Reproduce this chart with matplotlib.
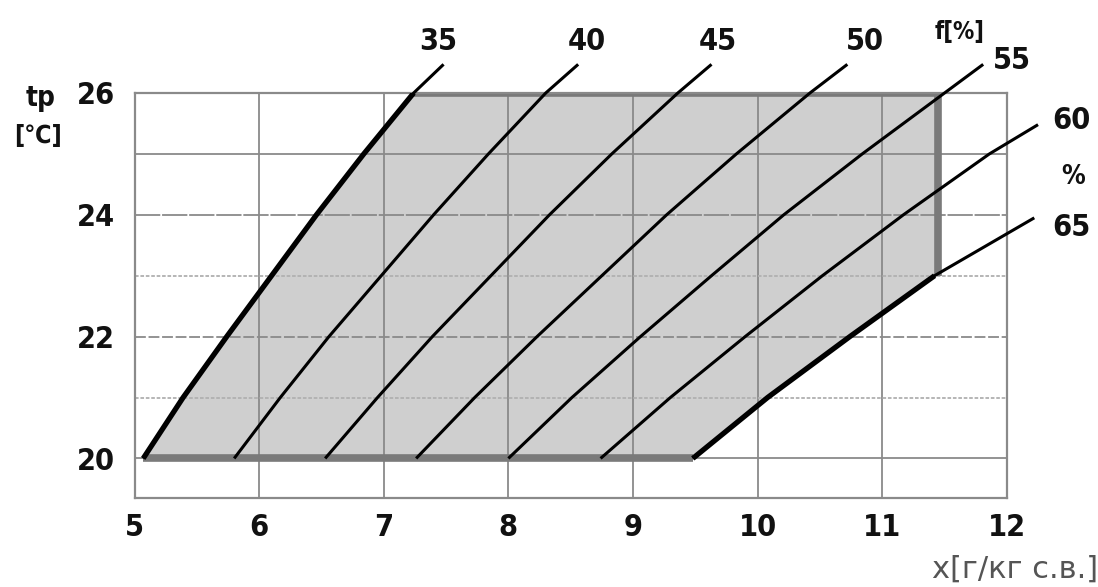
import matplotlib
matplotlib.use("Agg")
import matplotlib.pyplot as plt
from matplotlib import font_manager as fm

# ---- data ----
temps = [20, 21, 22, 23, 24, 25, 26]                 # t_p, °C
rh_labels = ["35", "40", "45", "50", "55", "60", "65"]
x_rh35 = [5.07, 5.39, 5.74, 6.10, 6.46, 6.84, 7.24]
x_rh40 = [5.80, 6.17, 6.56, 6.98, 7.40, 7.84, 8.30]
x_rh45 = [6.53, 6.95, 7.39, 7.86, 8.33, 8.83, 9.36]
x_rh50 = [7.26, 7.73, 8.23, 8.75, 9.27, 9.83, 10.42]
x_rh55 = [8.00, 8.51, 9.06, 9.63, 10.21, 10.84, 11.50]
x_rh60 = [8.74, 9.30, 9.90, 10.52, 11.17, 11.86]     # 20..25 °C
x_rh65 = [9.48, 10.08, 10.74, 11.42]                 # 20..23 °C
end_x = [7.48, 8.56, 9.63, 10.72, 11.81, 12.25, 12.22]
end_t = [26.47, 26.47, 26.47, 26.47, 26.47, 25.48, 23.95]
x_max = 11.45          # right edge of comfort zone
t_low, t_high, t_right_low = 20, 26, 23
x_ticks = [5, 6, 7, 8, 9, 10, 11, 12]
y_ticks = [20, 22, 24, 26]

curves = [x_rh35, x_rh40, x_rh45, x_rh50, x_rh55, x_rh60, x_rh65]


def pick_condensed_bold():
    files = [f.fname for f in fm.fontManager.ttflist]
    prefs = ["liberationsansnarrow-bold.", "dejavusanscondensed-bold.",
             "robotocondensed-bold", "opensans_condensed-bold",
             "opensanscondensed-bold"]
    for p in prefs:
        for fn in files:
            if p in fn.lower().replace(" ", ""):
                return fm.FontProperties(fname=fn)
    for fn in files:
        low = fn.lower()
        if ("condensed" in low or "narrow" in low) and "bold" in low \
                and "italic" not in low and "oblique" not in low:
            return fm.FontProperties(fname=fn)
    return fm.FontProperties(family="Roboto", weight="bold")


BOLD = pick_condensed_bold()


def fp(size):
    p = BOLD.copy()
    p.set_size(size)
    return p


fig = plt.figure(figsize=(10.98, 5.87), dpi=100)
ax = fig.add_axes([0.1225, 0.1516, 0.7945, 0.69])
ax.set_xlim(5, 12)
ax.set_ylim(19.35, 26)

# comfort zone fill
poly_x = x_rh35 + [x_max, x_max] + x_rh65[::-1]
poly_t = temps + [t_high, t_right_low] + temps[:len(x_rh65)][::-1]
ax.fill(poly_x, poly_t, color="#cfcfcf", lw=0, zorder=1)

# grid
for xv in range(6, 12):
    ax.axvline(xv, color="#8a8a8a", lw=1.3, zorder=1.5)
for yv, ls, col in [(20, "-", "#8a8a8a"), (21, (0, (2, 1)), "#b0b0b0"),
                    (22, (0, (6, 1.5)), "#8a8a8a"), (23, (0, (2, 1)), "#b0b0b0"),
                    (24, (0, (14, 1)), "#8a8a8a"), (25, "-", "#8a8a8a")]:
    ax.axhline(yv, color=col, lw=1.3, ls=ls, zorder=1.5)

# zone borders (top, right, bottom)
ax.plot([x_rh35[-1], x_max, x_max], [t_high, t_high, t_right_low],
        color="#7a7a7a", lw=5.5, solid_capstyle="butt", solid_joinstyle="miter", zorder=2)
ax.plot([x_rh35[0], x_rh65[0]], [t_low, t_low],
        color="#7a7a7a", lw=5.5, solid_capstyle="butt", zorder=2)

# RH curves (thin, full length incl. extension beyond the frame)
for i, xs in enumerate(curves):
    ts = temps[:len(xs)]
    ax.plot(list(xs) + [end_x[i]], list(ts) + [end_t[i]], color="black",
            lw=2.2, clip_on=False, zorder=3, solid_capstyle="butt")
# zone boundaries drawn thicker (35 % and 65 %)
ax.plot(x_rh35, temps, color="black", lw=3.8, zorder=3.2, solid_capstyle="butt")
ax.plot(x_rh65, temps[:len(x_rh65)], color="black", lw=3.8, zorder=3.2,
        solid_capstyle="butt")

# curve labels
lab_pos = [(7.44, 26.84), (8.63, 26.84), (9.68, 26.84), (10.86, 26.84),
           (12.04, 26.54), (12.52, 25.54), (12.52, 23.79)]
for (lx, ly), txt in zip(lab_pos, rh_labels):
    ax.text(lx, ly, txt, ha="center", va="center", fontproperties=fp(22),
            color="#111", clip_on=False)
ax.text(11.62, 27.0, "f[%]", ha="center", va="center", fontproperties=fp(17),
        color="#111", clip_on=False)
ax.text(12.53, 24.62, "%", ha="center", va="center", fontproperties=fp(19),
        color="#111", clip_on=False)

# axes styling
for s in ax.spines.values():
    s.set_color("#8a8a8a")
    s.set_linewidth(1.6)
ax.set_xticks(x_ticks)
ax.set_yticks(y_ticks)
ax.tick_params(length=0)
ax.tick_params(axis="x", pad=11)
ax.tick_params(axis="y", pad=14)
for lab in ax.get_xticklabels() + ax.get_yticklabels():
    lab.set_fontproperties(fp(22))
    lab.set_color("#111")

fig.text(41 / 1098, 1 - 98 / 587, "tp", ha="center", va="center",
         fontproperties=fp(20), color="#111")
fig.text(38 / 1098, 1 - 136 / 587, "[℃]", ha="center", va="center",
         fontsize=18, fontweight="bold", fontstretch="condensed",
         color="#111", family=["DejaVu Sans"])
fig.text(1.0, 1 - 569 / 587, "x[г/кг с.в.]", ha="right", va="center",
         fontsize=22, color="#555", family=["DejaVu Sans"])

fig.savefig("out.png", dpi=100)
